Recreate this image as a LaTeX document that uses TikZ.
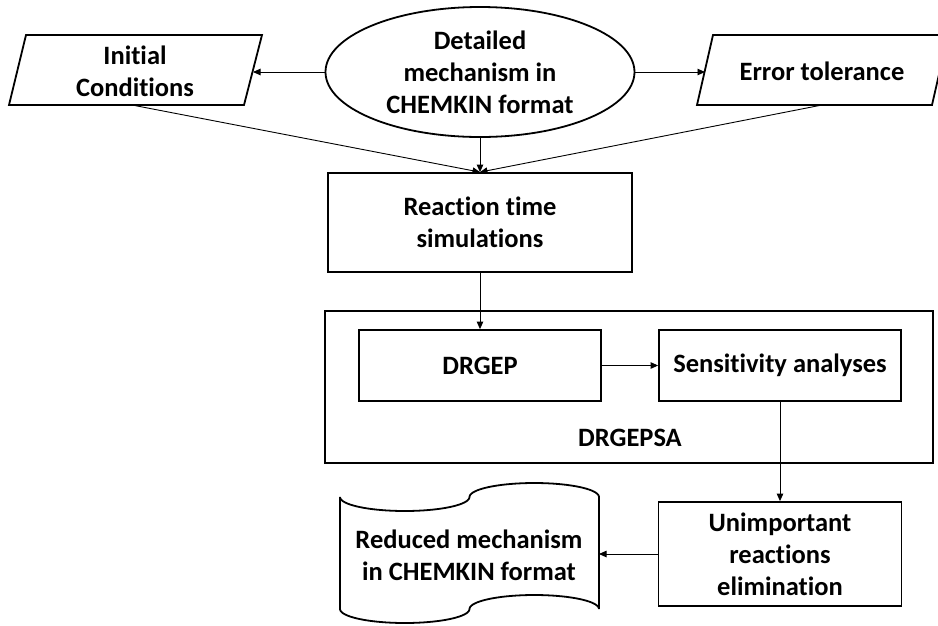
\documentclass[tikz,border=0pt]{standalone}
\usepackage{fontspec}
\setmainfont{Carlito}[Ligatures=NoCommon]
\usetikzlibrary{shapes.geometric,arrows.meta}
\begin{document}
\begin{tikzpicture}[x=1pt,y=-1pt,
  shp/.style={draw,line width=1.8pt,line join=miter},
  box/.style={shp,rectangle,inner sep=0pt},
  lbl/.style={font=\fontsize{26.5}{32}\selectfont\bfseries,align=center,inner sep=0pt},
  conn/.style={line width=0.9pt,-{Triangle[length=7.5pt,width=6.5pt]}}]
\useasboundingbox (0,0) rectangle (938,625);

% Initial conditions (parallelogram)
\draw[shp] (26,35) -- (262,35) -- (244,105) -- (9,105) -- cycle;
\node[lbl] (ic) at (135,71) {Initial\\Conditions};
\coordinate (icE) at (253,72);
\coordinate (icS) at (132,105);

% Error tolerance (parallelogram)
\draw[shp] (713,35) -- (948,35) -- (932,105) -- (697,105) -- cycle;
\node[lbl] (et) at (822,71) {Error tolerance};
\coordinate (etW) at (705,72);
\coordinate (etS) at (822,105);

% Detailed mechanism (ellipse)
\node[shp,ellipse,minimum width=309pt,minimum height=130pt,inner sep=0pt,lbl] (dm) at (480,72)
  {Detailed\\mechanism in\\CHEMKIN format};

% Reaction time simulations
\node[box,lbl,minimum width=304pt,minimum height=99pt] (rt) at (480,222.5) {Reaction time\\simulations};

% DRGEPSA container
\node[box,minimum width=608pt,minimum height=152pt] (sa) at (629,387) {};
\node[lbl] (salbl) at (630,438) {DRGEPSA};
\node[box,lbl,minimum width=242pt,minimum height=71pt] (dr) at (480,365.5) {DRGEP};
\node[box,lbl,minimum width=242pt,minimum height=71pt] (se) at (780,365.5) {Sensitivity analyses};

% Unimportant reactions elimination
\node[box,lbl,minimum width=243pt,minimum height=104pt] (ue) at (780,554) {Unimportant\\reactions\\elimination};

% Reduced mechanism (punched tape)
\draw[shp]
  plot[domain=0:180,samples=40,variable=\p] ({404.75-64.75*cos(\p)},{497+14*sin(\p)})
  -- plot[domain=0:180,samples=40,variable=\p] ({534.25-64.75*cos(\p)},{497-14*sin(\p)})
  -- plot[domain=0:180,samples=40,variable=\p] ({534.25+64.75*cos(\p)},{609-14*sin(\p)})
  -- plot[domain=0:180,samples=40,variable=\p] ({404.75+64.75*cos(\p)},{609+14*sin(\p)})
  -- cycle;
\node[lbl] (rm) at (469,555) {Reduced mechanism\\in CHEMKIN format};
\coordinate (rmE) at (599,554);

% connectors
\draw[conn] (dm.west) -- (icE);
\draw[conn] (dm.east) -- (etW);
\draw[conn] (dm.south) -- (rt.north);
\draw[conn] (icS) -- (rt.north);
\draw[conn] (etS) -- (rt.north);
\draw[conn] (rt.south) -- (dr.north);
\draw[conn] (dr.east) -- (se.west);
\draw[conn] (se.south) -- (ue.north);
\draw[conn] (ue.west) -- (rmE);
\end{tikzpicture}
\end{document}
